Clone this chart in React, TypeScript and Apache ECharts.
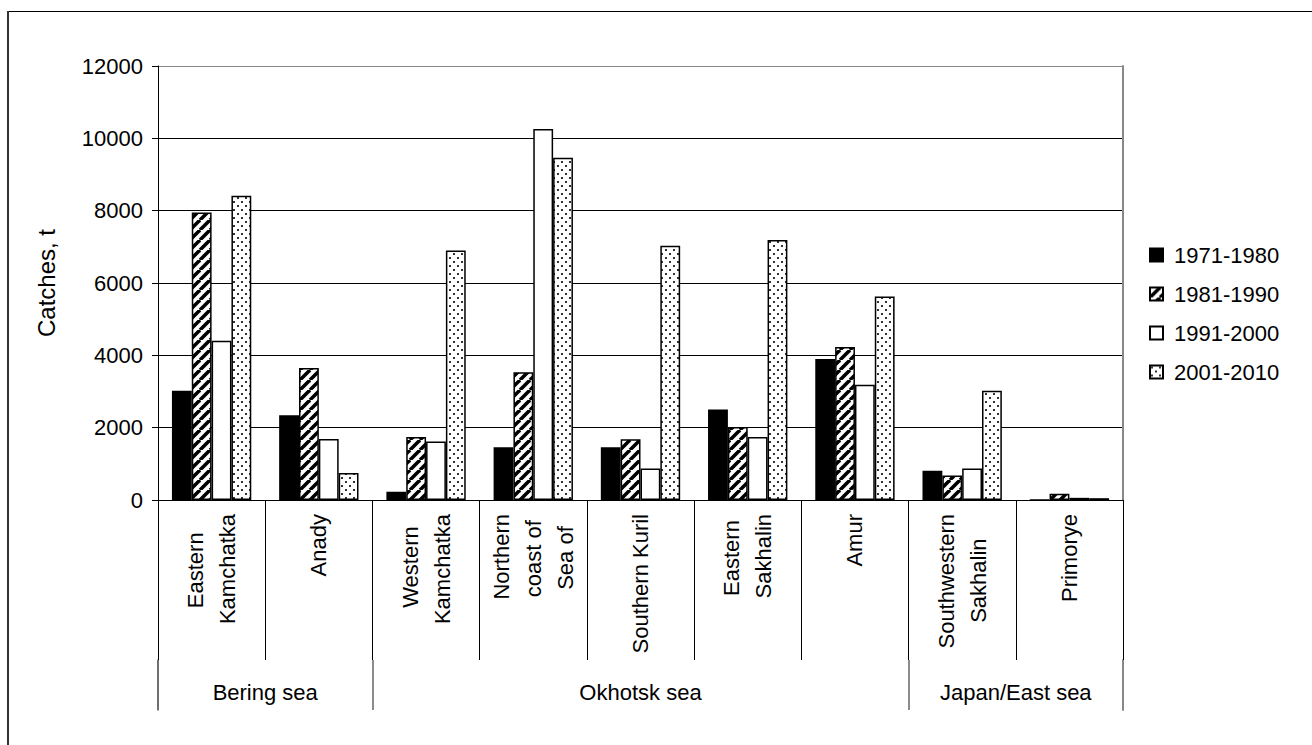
import React, { useEffect, useRef } from "react";
import * as echarts from "echarts";

// ---- data ----
const categoryLines: string[][] = [
  ["Eastern", "Kamchatka"],
  ["Anady"],
  ["Western", "Kamchatka"],
  ["Northern", "coast of", "Sea of"],
  ["Southern Kuril"],
  ["Eastern", "Sakhalin"],
  ["Amur"],
  ["Southwestern", "Sakhalin"],
  ["Primorye"],
];
const categories = categoryLines.map((l) => l.join(" "));
const seriesNames = ["1971-1980", "1981-1990", "1991-2000", "2001-2010"];
const v1971 = [3020, 2340, 230, 1460, 1460, 2500, 3900, 810, 0];
const v1981 = [7950, 3650, 1740, 3530, 1680, 2020, 4230, 680, 170];
const v1991 = [4400, 1690, 1620, 10260, 870, 1740, 3190, 870, 60];
const v2001 = [8410, 750, 6900, 9460, 7030, 7190, 5630, 3020, 50];
const groupNames = ["Bering sea", "Okhotsk sea", "Japan/East sea"];
const groupBounds = [0, 2, 7, 9];
const yMin = 0;
const yMax = 12000;
const yInterval = 2000;

const FONT = "'Liberation Sans', Arial, sans-serif";
const LABEL_SIZE = 22;

function makeHatch(): string {
  const s = 10;
  const c = document.createElement("canvas");
  c.width = s;
  c.height = s;
  const ctx = c.getContext("2d")!;
  ctx.fillStyle = "#fff";
  ctx.fillRect(0, 0, s, s);
  ctx.strokeStyle = "#000";
  ctx.lineWidth = 3.5;
  for (const x0 of [-s, 0, s]) {
    ctx.beginPath();
    ctx.moveTo(x0, s);
    ctx.lineTo(x0 + s, 0);
    ctx.stroke();
  }
  return c.toDataURL();
}

function makeDots(): string {
  const s = 8;
  const c = document.createElement("canvas");
  c.width = s;
  c.height = s;
  const ctx = c.getContext("2d")!;
  ctx.fillStyle = "#fff";
  ctx.fillRect(0, 0, s, s);
  ctx.fillStyle = "#333";
  ctx.fillRect(1, 1, 2, 2);
  ctx.fillRect(5, 5, 2, 2);
  return c.toDataURL();
}

export default function App() {
  const ref = useRef<HTMLDivElement>(null);
  useEffect(() => {
    document.body.style.margin = "0";
    if (!ref.current) return;
    const chart = echarts.init(ref.current, undefined, { renderer: "svg" });
    const hatch = { image: makeHatch(), repeat: "repeat", imageWidth: 10, imageHeight: 10 };
    const dots = { image: makeDots(), repeat: "repeat", imageWidth: 8, imageHeight: 8 };
    const fills: any[] = ["#000", hatch, "#fff", dots];
    const values = [v1971, v1981, v1991, v2001];
    const groupCenters = groupBounds.slice(0, -1).map((b, i) => (b + groupBounds[i + 1]) / 2);

    const splitColors: string[] = [];
    for (let v = yMin; v <= yMax; v += yInterval) splitColors.push(v === yMax ? "#888" : "#000");

    // centre the shorter lines of a wrapped label: the block hangs from the axis (right-aligned),
    // so shorter lines get trailing no-break spaces
    const mc = document.createElement("canvas").getContext("2d")!;
    mc.font = `${LABEL_SIZE}px ${FONT}`;
    const spaceW = mc.measureText("\u00a0").width || 6;
    const labelTexts = categoryLines.map((lines) => {
      const widths = lines.map((l) => mc.measureText(l).width);
      const maxW = Math.max(...widths);
      return lines
        .map((l, j) => l + "\u00a0".repeat(Math.max(0, Math.round((maxW - widths[j]) / 2 / spaceW))))
        .join("\n");
    });

    const option: any = {
      animation: false,
      backgroundColor: "#fff",
      textStyle: { fontFamily: FONT },
      grid: [
        { left: 158, right: 189, top: 66, bottom: 245, containLabel: false },
        { left: 158, right: 189, top: 660, height: 50, containLabel: false },
      ],
      legend: {
        orient: "vertical",
        left: 1149,
        top: 244,
        padding: 0,
        itemGap: 17,
        itemWidth: 13,
        itemHeight: 13,
        icon: "rect",
        data: seriesNames,
        textStyle: { fontSize: 22, fontFamily: FONT, color: "#000", padding: [0, 0, 0, 6] },
      },
      xAxis: [
        {
          type: "category",
          gridIndex: 0,
          data: categories,
          position: "bottom",
          axisLine: { show: true, lineStyle: { color: "#000", width: 1 } },
          axisTick: { show: true, length: 160, interval: 0, lineStyle: { color: "#000", width: 1 } },
          axisLabel: {
            interval: 0,
            rotate: 90,
            margin: 14,
            fontSize: LABEL_SIZE,
            lineHeight: 32,
            fontFamily: FONT,
            color: "#000",
            formatter: (_v: string, idx: number) => labelTexts[idx],
          },
          splitLine: { show: false },
        },
        {
          // second level: group names
          type: "value",
          gridIndex: 0,
          min: 0,
          max: categories.length,
          position: "bottom",
          offset: 160,
          axisLine: { show: false },
          axisTick: { show: false },
          axisLabel: {
            show: true,
            customValues: groupCenters,
            margin: 21,
            fontSize: 22,
            fontFamily: FONT,
            color: "#000",
            formatter: (v: number) => {
              const i = groupCenters.findIndex((c) => Math.abs(c - v) < 1e-6);
              return i >= 0 ? groupNames[i] : "";
            },
          },
          splitLine: { show: false },
        },
        {
          // second level: group separators
          type: "category",
          gridIndex: 1,
          data: categories,
          position: "bottom",
          axisLine: { show: false },
          axisTick: { show: false },
          axisLabel: { show: false },
          splitLine: {
            show: true,
            interval: (index: number) => groupBounds.indexOf(index) >= 0,
            lineStyle: { color: "#666", width: 1.5 },
          },
        },
      ],
      yAxis: [
        {
          type: "value",
          gridIndex: 0,
          min: yMin,
          max: yMax,
          interval: yInterval,
          name: "Catches, t",
          nameLocation: "middle",
          nameGap: 100,
          nameTextStyle: { fontSize: 24, fontFamily: FONT, color: "#000" },
          axisLine: { show: true, lineStyle: { color: "#000", width: 1 } },
          axisTick: { show: true, length: 6, lineStyle: { color: "#000" } },
          axisLabel: {
            fontSize: 22,
            fontFamily: FONT,
            color: "#000",
            margin: 15,
            formatter: (v: number) => String(v),
          },
          splitLine: { show: true, lineStyle: { color: splitColors, width: 1 } },
        },
        {
          type: "value",
          gridIndex: 0,
          min: yMin,
          max: yMax,
          interval: yInterval,
          position: "right",
          axisLine: { show: true, lineStyle: { color: "#888", width: 2 } },
          axisTick: { show: false },
          axisLabel: { show: false },
          splitLine: { show: false },
        },
        {
          type: "value",
          gridIndex: 1,
          min: 0,
          max: 1,
          position: "left",
          axisLine: { show: true, lineStyle: { color: "#666", width: 1.5 } },
          axisTick: { show: false },
          axisLabel: { show: false },
          splitLine: { show: false },
        },
        {
          type: "value",
          gridIndex: 1,
          min: 0,
          max: 1,
          position: "right",
          axisLine: { show: true, lineStyle: { color: "#888", width: 2 } },
          axisTick: { show: false },
          axisLabel: { show: false },
          splitLine: { show: false },
        },
      ],
      graphic: [
        { type: "line", shape: { x1: 8, y1: 11.5, x2: 1320, y2: 11.5 }, style: { stroke: "#000", lineWidth: 1 } },
        { type: "line", shape: { x1: 8, y1: 11, x2: 8, y2: 760 }, style: { stroke: "#333", lineWidth: 2 } },
      ],
      series: seriesNames.map((name, i) => ({
        name,
        type: "bar",
        xAxisIndex: 0,
        yAxisIndex: 0,
        data: values[i],
        barGap: "0%",
        barCategoryGap: "26%",
        itemStyle: { color: fills[i], borderColor: "#000", borderWidth: 1.5 },
        emphasis: { disabled: true },
      })),
    };
    chart.setOption(option);
    return () => chart.dispose();
  }, []);
  return <div ref={ref} style={{ width: 1312, height: 745 }} />;
}
